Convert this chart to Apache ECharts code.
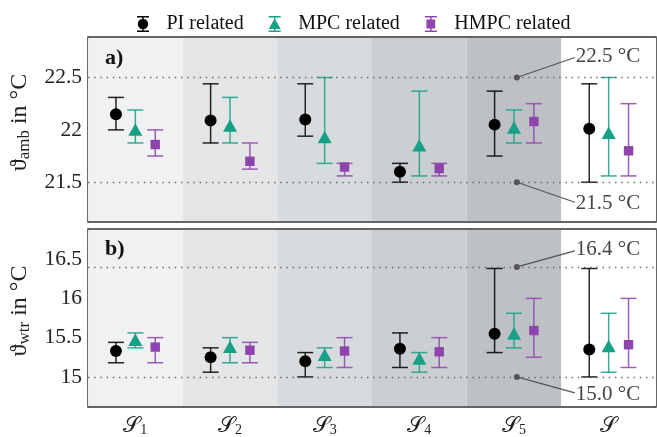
<!DOCTYPE html>
<html>
<head>
<meta charset="utf-8">
<script src="https://cdn.jsdelivr.net/npm/echarts@6/dist/echarts.min.js"></script>
<style>
  html, body { margin: 0; padding: 0; background: #fff; }
  #chart { width: 657px; height: 437px; }
</style>
</head>
<body>
<div id="chart"></div>
<script>
var cats = ['S1', 'S2', 'S3', 'S4', 'S5', 'S'];
var catSubs = ['1', '2', '3', '4', '5', ''];
var bgColors = ['#f0f1f2', '#e4e5e7', '#d8dbde', '#cbcfd2', '#bdc1c5', '#ffffff'];

// ambient temperature, mean / lower / upper
var ambPI = [22.15, 22.09, 22.10, 21.60, 22.05, 22.01];
var ambPILo = [22.0, 21.875, 21.94, 21.5, 21.75, 21.5];
var ambPIHi = [22.31, 22.44, 22.44, 21.68, 22.37, 22.44];
var ambMPC = [22.0, 22.04, 21.93, 21.85, 22.02, 21.97];
var ambMPCLo = [21.875, 21.875, 21.68, 21.56, 21.875, 21.56];
var ambMPCHi = [22.19, 22.31, 22.5, 22.37, 22.19, 22.5];
var ambHMPC = [21.86, 21.70, 21.645, 21.63, 22.08, 21.80];
var ambHMPCLo = [21.75, 21.625, 21.56, 21.56, 21.875, 21.56];
var ambHMPCHi = [22.0, 21.875, 21.68, 21.68, 22.25, 22.25];

// water temperature, mean / lower / upper
var wtrPI = [15.33, 15.25, 15.20, 15.36, 15.55, 15.35];
var wtrPILo = [15.18, 15.06, 15.0, 15.12, 15.31, 15.0];
var wtrPIHi = [15.44, 15.37, 15.31, 15.56, 16.38, 16.38];
var wtrMPC = [15.47, 15.38, 15.28, 15.23, 15.55, 15.39];
var wtrMPCLo = [15.37, 15.18, 15.12, 15.06, 15.37, 15.06];
var wtrMPCHi = [15.56, 15.5, 15.37, 15.31, 15.81, 15.81];
var wtrHMPC = [15.38, 15.34, 15.33, 15.32, 15.59, 15.41];
var wtrHMPCLo = [15.18, 15.18, 15.12, 15.12, 15.25, 15.12];
var wtrHMPCHi = [15.5, 15.44, 15.5, 15.5, 16.0, 16.0];

var ambLimits = [22.5, 21.5];
var ambLimitLabels = ['22.5 °C', '21.5 °C'];
var wtrLimits = [16.4, 15.0];
var wtrLimitLabels = ['16.4 °C', '15.0 °C'];

var ambTicks = [21.25, 21.5, 21.75, 22, 22.25, 22.5, 22.75];
var ambLabels = [21.5, 22, 22.5];
var wtrTicks = [14.75, 15, 15.25, 15.5, 15.75, 16, 16.25, 16.5, 16.75];
var wtrLabels = [15, 15.5, 16, 16.5];

var FONT = "'Liberation Serif', 'DejaVu Serif', serif";
var TEAL = '#16a085';
var PURPLE = '#8e44ad';
var BLACK = '#000000';

var chart = echarts.init(document.getElementById('chart'), null, { renderer: 'canvas' });

function zip(m, lo, hi) {
  return m.map(function(v, i) { return [i, v, lo[i], hi[i]]; });
}

function errorBarItem(offset, shape, color) {
  return function(params, api) {
    var idx = api.value(0);
    var bw = api.size([1, 0])[0];
    var pm = api.coord([idx, api.value(1)]);
    var x = pm[0] + offset * bw;
    var ym = pm[1];
    var ylo = api.coord([idx, api.value(2)])[1];
    var yhi = api.coord([idx, api.value(3)])[1];
    var cw = 8;
    var ls = { stroke: color, lineWidth: 1.5, opacity: 0.85 };
    var marker;
    if (shape === 'circle') {
      marker = { type: 'circle', shape: { cx: x, cy: ym, r: 6 }, style: { fill: color } };
    } else if (shape === 'triangle') {
      marker = { type: 'polygon', shape: { points: [[x, ym - 6.5], [x + 7, ym + 6], [x - 7, ym + 6]] }, style: { fill: color } };
    } else {
      marker = { type: 'rect', shape: { x: x - 4.7, y: ym - 4.7, width: 9.4, height: 9.4 }, style: { fill: color } };
    }
    return {
      type: 'group',
      children: [
        { type: 'line', shape: { x1: x, y1: ylo, x2: x, y2: yhi }, style: ls },
        { type: 'line', shape: { x1: x - cw, y1: ylo, x2: x + cw, y2: ylo }, style: ls },
        { type: 'line', shape: { x1: x - cw, y1: yhi, x2: x + cw, y2: yhi }, style: ls },
        marker
      ]
    };
  };
}

function bgItem(params, api) {
  var idx = api.value(0);
  var bw = api.size([1, 0])[0];
  var cx = api.coord([idx, 0])[0];
  var cs = params.coordSys;
  return {
    type: 'rect',
    shape: { x: cx - bw / 2, y: cs.y + 1, width: bw, height: cs.height - 2 },
    style: { fill: bgColors[idx] }
  };
}

function annotItem(labels, dy) {
  return function(params, api) {
    var bw = api.size([1, 0])[0];
    var p = api.coord([api.value(0), api.value(1)]);
    var px = p[0] + 0.03 * bw;
    var dir = params.dataIndex === 0 ? -1 : 1;
    var ex = px + 58, ey = p[1] + dir * dy;
    return {
      type: 'group',
      children: [
        { type: 'line', shape: { x1: px, y1: p[1], x2: ex, y2: ey }, style: { stroke: '#555', lineWidth: 1.2 } },
        { type: 'circle', shape: { cx: px, cy: p[1], r: 3 }, style: { fill: '#555' } },
        { type: 'text', x: ex + 1, y: ey + dir * 1.5,
          style: { text: labels[params.dataIndex], font: '21px ' + FONT, fill: '#444', textAlign: 'left', textVerticalAlign: 'middle' } }
      ]
    };
  };
}

function yAxisPair(grid, min, max, ticks, labels, nameRich) {
  var common = {
    type: 'value', gridIndex: grid, min: min, max: max,
    splitLine: { show: false },
    axisLine: { show: false },
    axisTick: { show: true, inside: true, length: 5, customValues: ticks, lineStyle: { color: '#333', width: 1 } }
  };
  var left = Object.assign({}, common, {
    position: 'left',
    axisLabel: { customValues: labels, fontFamily: FONT, fontSize: 21.5, color: '#222', margin: 6 },
    name: nameRich,
    nameLocation: 'middle',
    nameRotate: 90,
    nameGap: 50,
    nameTextStyle: {
      padding: [0, 0, 0, 14],
      rich: {
        v: { fontFamily: FONT, fontSize: 24, color: '#222' },
        sub: { fontFamily: FONT, fontSize: 17, color: '#222', padding: [10, 0, 0, 0] }
      }
    }
  });
  var right = Object.assign({}, common, { position: 'right', axisLabel: { show: false } });
  return [left, right];
}

var capIcon = 'M0,0 H12 V1.4 H0 Z M0,14.6 H12 V16 H0 Z M5.3,1.4 H6.7 V14.6 H5.3 Z ';
var iconPI = 'path://' + capIcon + 'M0.8,8 A5.2,5.2 0 1,1 11.2,8 A5.2,5.2 0 1,1 0.8,8 Z';
var iconMPC = 'path://' + capIcon + 'M6,2.5 L12,13 L0,13 Z';
var iconHMPC = 'path://' + capIcon + 'M1.6,3.6 H10.4 V12.4 H1.6 Z';

var groups = [
  { name: 'PI related', off: -0.205, shape: 'circle', color: BLACK,
    amb: zip(ambPI, ambPILo, ambPIHi), wtr: zip(wtrPI, wtrPILo, wtrPIHi) },
  { name: 'MPC related', off: 0, shape: 'triangle', color: TEAL,
    amb: zip(ambMPC, ambMPCLo, ambMPCHi), wtr: zip(wtrMPC, wtrMPCLo, wtrMPCHi) },
  { name: 'HMPC related', off: 0.21, shape: 'square', color: PURPLE,
    amb: zip(ambHMPC, ambHMPCLo, ambHMPCHi), wtr: zip(wtrHMPC, wtrHMPCLo, wtrHMPCHi) }
];

var dotted = { color: '#666', width: 1.4, type: [1.4, 4.8] };

var series = [
  {
    type: 'custom', xAxisIndex: 0, yAxisIndex: 0, z: 1, silent: true,
    data: cats.map(function(c, i) { return [i, 22]; }),
    renderItem: bgItem,
    markLine: { silent: true, symbol: 'none', label: { show: false }, lineStyle: dotted,
      data: ambLimits.map(function(v) { return { yAxis: v }; }) }
  },
  {
    type: 'custom', xAxisIndex: 1, yAxisIndex: 2, z: 1, silent: true,
    data: cats.map(function(c, i) { return [i, 15.5]; }),
    renderItem: bgItem,
    markLine: { silent: true, symbol: 'none', label: { show: false }, lineStyle: dotted,
      data: wtrLimits.map(function(v) { return { yAxis: v }; }) }
  },
  {
    type: 'custom', xAxisIndex: 0, yAxisIndex: 0, z: 5, silent: true,
    data: ambLimits.map(function(v) { return [4, v]; }),
    renderItem: annotItem(ambLimitLabels, 20)
  },
  {
    type: 'custom', xAxisIndex: 1, yAxisIndex: 2, z: 5, silent: true,
    data: wtrLimits.map(function(v) { return [4, v]; }),
    renderItem: annotItem(wtrLimitLabels, 16)
  }
];

groups.forEach(function(g) {
  series.push({
    name: g.name, type: 'custom', xAxisIndex: 0, yAxisIndex: 0, z: 3,
    itemStyle: { color: g.color },
    encode: { x: 0, y: [1, 2, 3] },
    data: g.amb, renderItem: errorBarItem(g.off, g.shape, g.color)
  });
  series.push({
    name: g.name, type: 'custom', xAxisIndex: 1, yAxisIndex: 2, z: 3,
    itemStyle: { color: g.color },
    encode: { x: 0, y: [1, 2, 3] },
    data: g.wtr, renderItem: errorBarItem(g.off, g.shape, g.color)
  });
});

var ambAxes = yAxisPair(0, 21.12, 22.887, ambTicks, ambLabels, '{v|ϑ}{sub|amb}{v| in °C}');
var wtrAxes = yAxisPair(1, 14.617, 16.883, wtrTicks, wtrLabels, '{v|ϑ}{sub|wtr}{v| in °C}');

chart.setOption({
  animation: false,
  backgroundColor: '#fff',
  legend: {
    left: 132, top: 9,
    itemWidth: 13, itemHeight: 16, itemGap: 25,
    textStyle: { fontFamily: FONT, fontSize: 20, color: '#111', padding: [0, 0, 0, 12] },
    data: [
      { name: 'PI related', icon: iconPI, itemStyle: { color: BLACK } },
      { name: 'MPC related', icon: iconMPC, itemStyle: { color: TEAL } },
      { name: 'HMPC related', icon: iconHMPC, itemStyle: { color: PURPLE } }
    ]
  },
  graphic: [
    { type: 'text', left: 105, top: 47, z: 100, style: { text: 'a)', font: 'bold 22px ' + FONT, fill: '#111' } },
    { type: 'text', left: 105, top: 238, z: 100, style: { text: 'b)', font: 'bold 22px ' + FONT, fill: '#111' } }
  ],
  grid: [
    { left: 88, top: 37, width: 568, height: 185, show: true, borderColor: '#333', borderWidth: 1.5, backgroundColor: 'transparent' },
    { left: 88, top: 229, width: 568, height: 182, show: true, borderColor: '#333', borderWidth: 1.5, backgroundColor: 'transparent' }
  ],
  xAxis: [
    { type: 'category', gridIndex: 0, data: cats, boundaryGap: true,
      axisLine: { show: false }, axisTick: { show: false }, axisLabel: { show: false } },
    { type: 'category', gridIndex: 1, data: cats, boundaryGap: true,
      axisLine: { show: false }, axisTick: { show: false },
      axisLabel: {
        margin: 8,
        formatter: function(v, i) {
          return catSubs[i] ? '{s|𝒮}{sub|' + catSubs[i] + '}' : '{s|𝒮}';
        },
        rich: {
          s: { fontFamily: FONT, fontSize: 22, color: '#222' },
          sub: { fontFamily: FONT, fontSize: 14, color: '#222', padding: [8, 0, 0, 0] }
        }
      } }
  ],
  yAxis: [ambAxes[0], ambAxes[1], wtrAxes[0], wtrAxes[1]],
  series: series
});
</script>
</body>
</html>
